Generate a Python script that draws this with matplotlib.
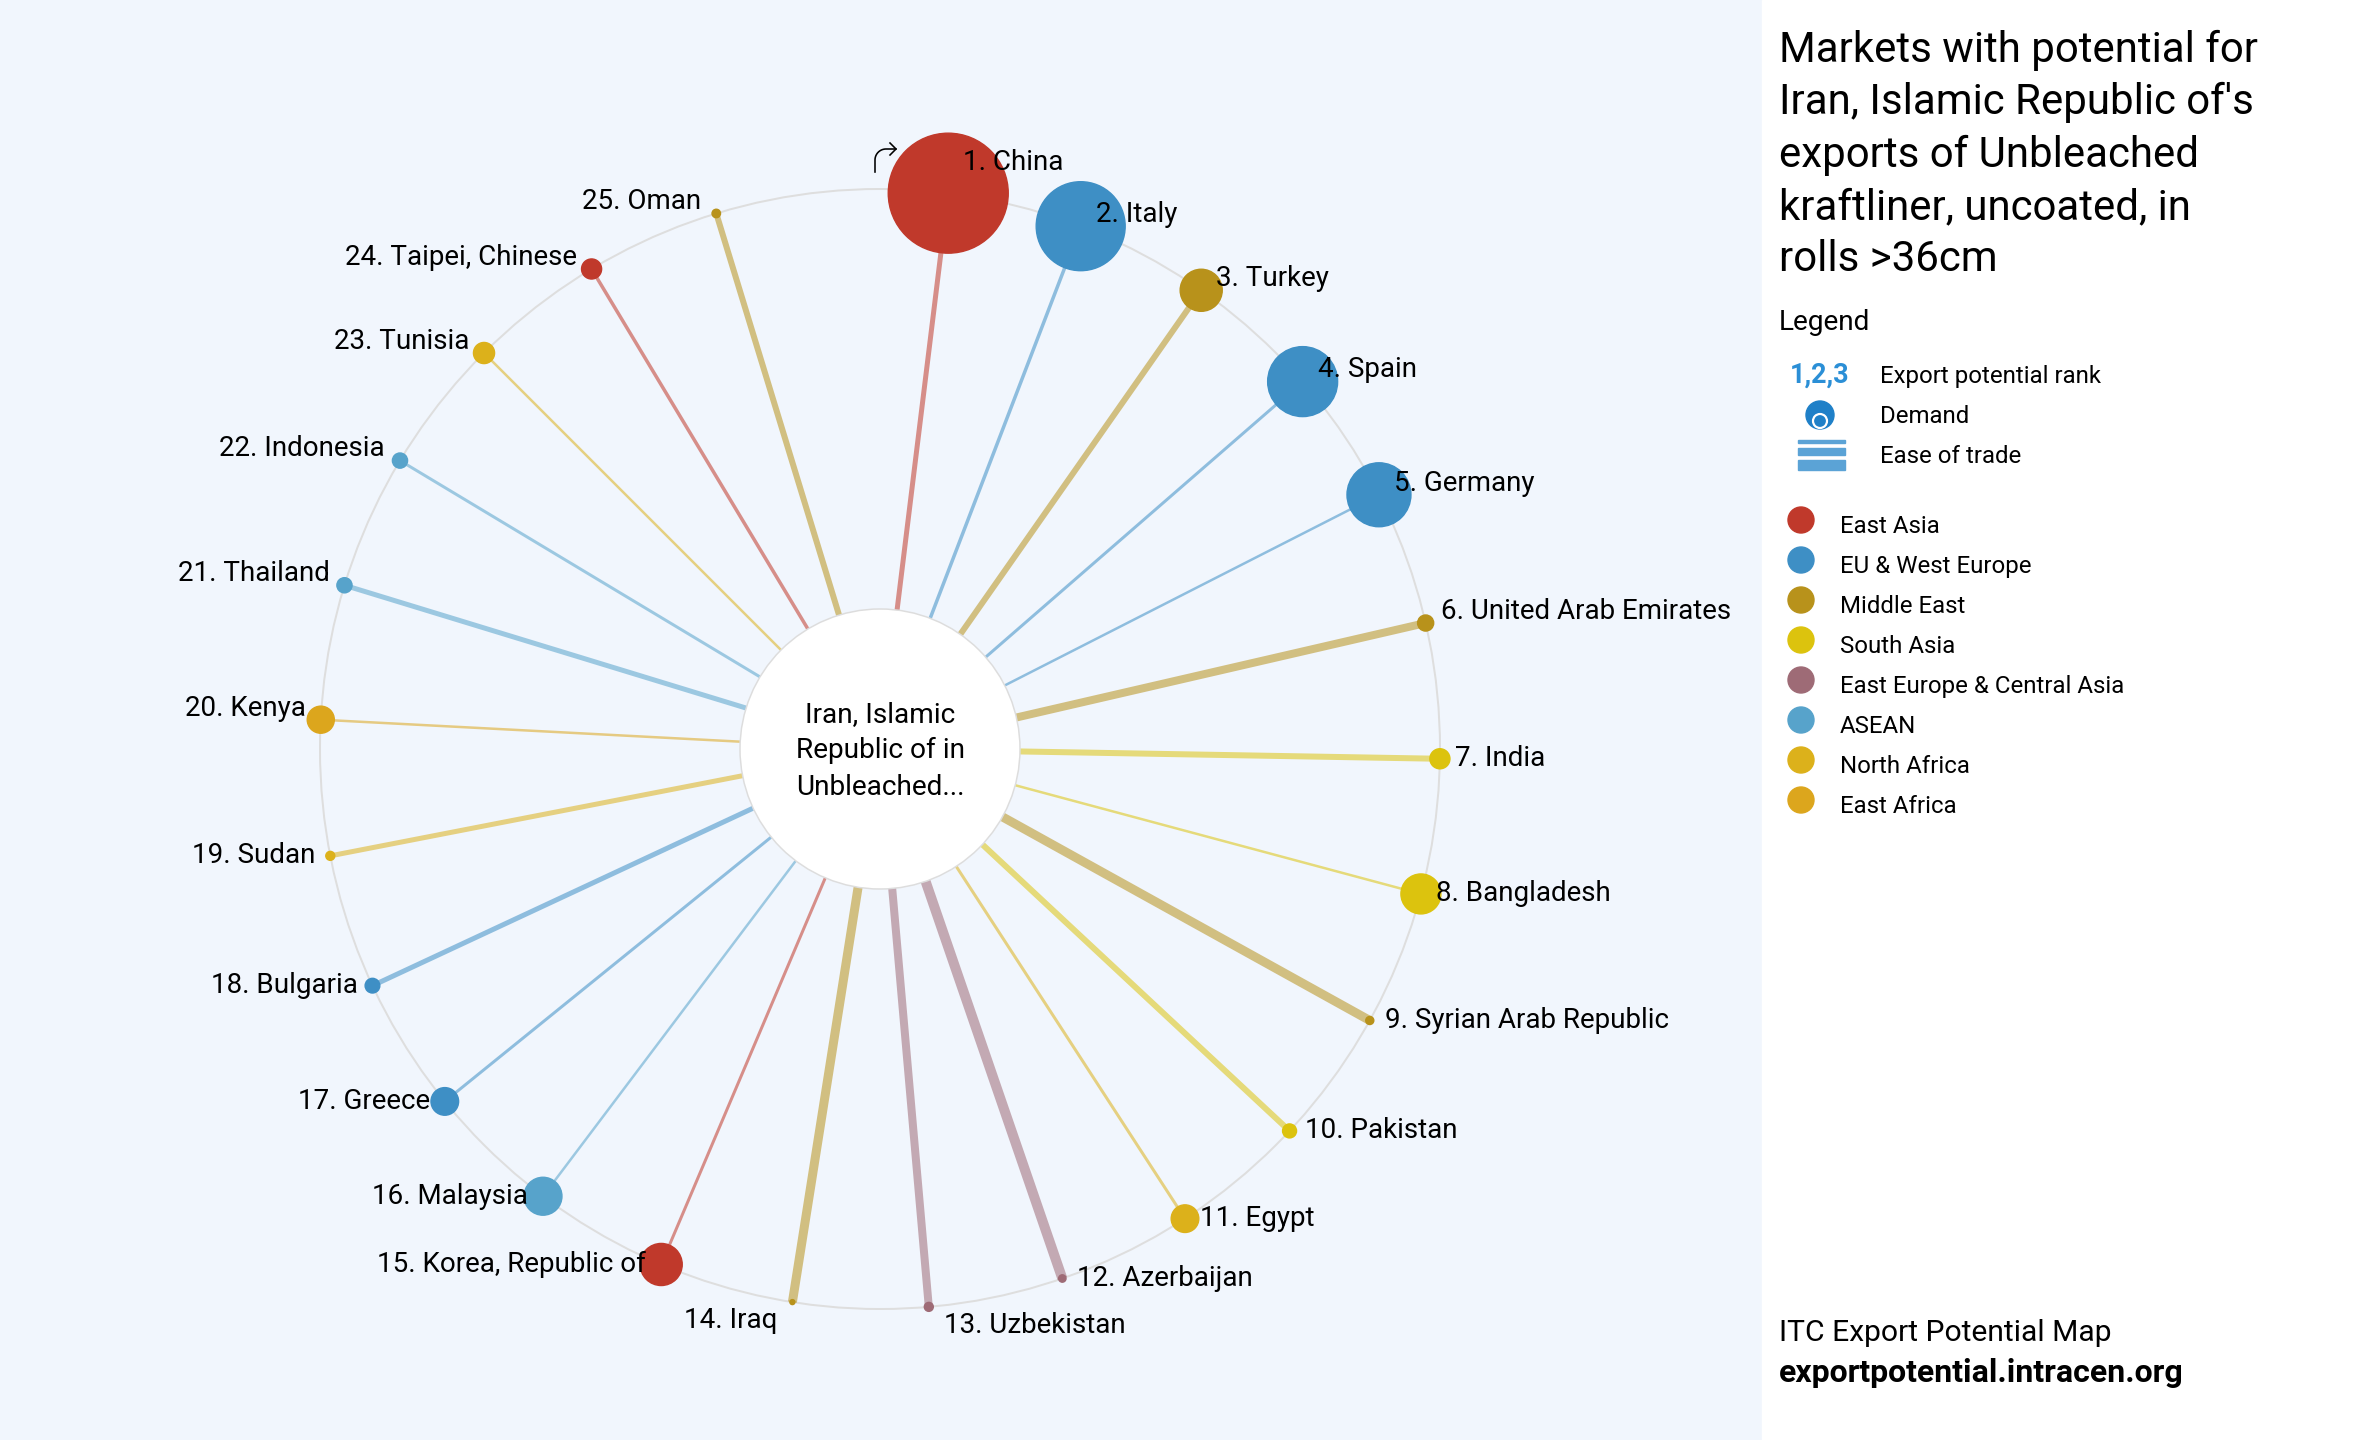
import matplotlib
matplotlib.use("Agg")
import matplotlib.pyplot as plt
from matplotlib.patches import Circle, Rectangle
import numpy as np

plt.rcParams['font.family'] = ['Roboto', 'DejaVu Sans']

# data
markets = ["China", "Italy", "Turkey", "Spain", "Germany", "United Arab Emirates",
           "India", "Bangladesh", "Syrian Arab Republic", "Pakistan", "Egypt",
           "Azerbaijan", "Uzbekistan", "Iraq", "Korea, Republic of", "Malaysia",
           "Greece", "Bulgaria", "Sudan", "Kenya", "Thailand", "Indonesia",
           "Tunisia", "Taipei, Chinese", "Oman"]
market_region = ["East Asia", "EU & West Europe", "Middle East", "EU & West Europe",
                 "EU & West Europe", "Middle East", "South Asia", "South Asia",
                 "Middle East", "South Asia", "North Africa",
                 "East Europe & Central Asia", "East Europe & Central Asia",
                 "Middle East", "East Asia", "ASEAN", "EU & West Europe",
                 "EU & West Europe", "North Africa", "East Africa", "ASEAN", "ASEAN",
                 "North Africa", "East Asia", "Middle East"]
demand = [100, 55, 12.3, 34, 28.4, 1.8, 2.8, 11.1, 0.45, 1.36, 5.3, 0.38, 0.56,
          0.12, 12.3, 10, 5.3, 1.5, 0.56, 5.1, 1.6, 1.6, 3.1, 2.8, 0.5]
ease = [5, 3.5, 6, 3, 2.5, 8, 6, 2.5, 9, 6, 3, 10, 8, 9, 3, 2.5, 3, 5, 5, 2.5, 5, 3,
        2.5, 3.5, 6]

region_names = ["East Asia", "EU & West Europe", "Middle East", "South Asia",
                "East Europe & Central Asia", "ASEAN", "North Africa", "East Africa"]
region_colors = ["#c0392b", "#3e8fc5", "#b8921b", "#dcc30e", "#9e6b76", "#57a3cb",
                 "#dcb11b", "#dca61d"]

title_lines = ["Markets with potential for", "Iran, Islamic Republic of's",
               "exports of Unbleached", "kraftliner, uncoated, in", "rolls >36cm"]
center_lines = ["Iran, Islamic", "Republic of in", "Unbleached..."]

W, H = 2360, 1440
fig = plt.figure(figsize=(W / 100, H / 100), dpi=100)
ax = fig.add_axes([0, 0, 1, 1])
ax.set_xlim(0, W)
ax.set_ylim(H, 0)
ax.set_aspect('equal')
ax.axis('off')

PT = 0.72  # px -> pt

ax.add_patch(Rectangle((0, 0), 1762, H, color="#f1f6fd", zorder=0))
ax.add_patch(Rectangle((1762, 0), W - 1762, H, color="white", zorder=0))

cx, cy = 880, 749
R = 560
colmap = dict(zip(region_names, region_colors))

ax.add_patch(Circle((cx, cy), R, fill=False, ec="#dedede", lw=2 * PT, zorder=1))

lab_px = 27.8
n = len(markets)
for i in range(n):
    ang = np.radians(7 + 14 * i)
    x = cx + R * np.sin(ang)
    y = cy - R * np.cos(ang)
    col = colmap[market_region[i]]
    ax.plot([cx, x], [cy, y], color=col, alpha=0.55, lw=ease[i] * PT,
            solid_capstyle='butt', zorder=2)
    r = 60 * np.sqrt(demand[i] / 100)
    ax.add_patch(Circle((x, y), max(r, 2.5), color=col, zorder=4))

    c = np.cos(ang)
    if i == 0:
        dy = -33
    elif c > 0.03:
        dy = -14
    elif c < -0.96:
        dy = 16
    else:
        dy = -2.5
    base = y + dy + lab_px * 0.711 / 2
    label = f"{i + 1}. {markets[i]}"
    if np.sin(ang) > 0:
        ax.text(x + 15, base, label, ha='left', va='baseline', fontsize=lab_px * PT,
                color="black", zorder=6)
    else:
        ax.text(x - 15, base, label, ha='right', va='baseline', fontsize=lab_px * PT,
                color="black", zorder=6)

# centre disc
ax.add_patch(Circle((cx, cy), 140, fc="white", ec="#dddddd", lw=1.5 * PT, zorder=3))
for k, t in enumerate(center_lines):
    ax.text(cx, 722 + 36.5 * k, t, ha='center', va='baseline', fontsize=28 * PT,
            zorder=6)

# small hooked arrow icon next to the top market
t = np.linspace(np.pi, np.pi / 2, 20)
ax_x = np.concatenate([[875, 875], 886 + 11 * np.cos(t), [896]])
ax_y = np.concatenate([[172, 160], 160 - 11 * np.sin(t), [149]])
ax.plot(ax_x, ax_y, color="black", lw=1.6 * PT, zorder=6)
ax.plot([890, 896, 890], [143, 149, 155], color="black", lw=1.6 * PT, zorder=6)

# right panel
for k, t in enumerate(title_lines):
    ax.text(1779, 62 + 52.3 * k, t, ha='left', va='baseline', fontsize=42 * PT)
ax.text(1779, 330, "Legend", ha='left', va='baseline', fontsize=28 * PT)

ax.text(1790, 383, "1,2,3", ha='left', va='baseline', fontsize=27 * PT,
        fontweight='bold', color="#2b8fd6")
ax.add_patch(Circle((1820, 415), 14, color="#1f80c8"))
ax.add_patch(Circle((1820, 421), 7, fc="#1f80c8", ec="white", lw=2.2 * PT))
ax.add_patch(Rectangle((1798, 440), 47, 3, color="#5ba3d6"))
ax.add_patch(Rectangle((1798, 448), 47, 7, color="#5ba3d6"))
ax.add_patch(Rectangle((1798, 460), 47, 10, color="#5ba3d6"))
for k, t in enumerate(["Export potential rank", "Demand", "Ease of trade"]):
    ax.text(1880, 383 + 40 * k, t, ha='left', va='baseline', fontsize=24 * PT)

for k, (name, col) in enumerate(zip(region_names, region_colors)):
    yy = 520 + 40 * k
    ax.add_patch(Circle((1801, yy), 13, color=col))
    ax.text(1840, yy + 13, name, ha='left', va='baseline', fontsize=24 * PT)

ax.text(1779, 1341, "ITC Export Potential Map", ha='left', va='baseline',
        fontsize=30 * PT)
ax.text(1779, 1382, "exportpotential.intracen.org", ha='left', va='baseline',
        fontsize=32 * PT, fontweight='bold')

fig.savefig("out.png", dpi=100)
